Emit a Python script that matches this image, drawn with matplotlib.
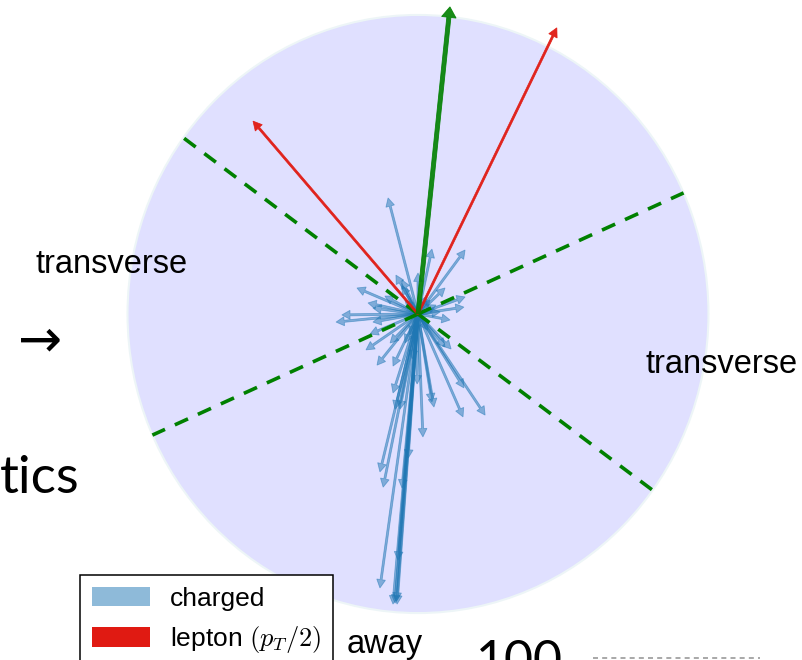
import numpy as np
import matplotlib.pyplot as plt
from matplotlib.patches import Circle, Patch
from matplotlib.lines import Line2D

# transverse momenta of the charged tracks (units of the circle radius)
charged_px = [-0.103, 0.048, 0.162, -0.076, 0.000, -0.055, 0.093, -0.210, 0.162, 0.158,
              -0.172, -0.155, -0.262, -0.282, 0.110, -0.155, -0.165, -0.179, -0.141, -0.086,
              0.114, 0.093, 0.158, 0.231, 0.155, 0.055, 0.048, -0.003, -0.086, -0.079,
              -0.062, 0.017, -0.034, -0.131, -0.120, -0.055, -0.131, -0.086, -0.072, -0.079,
              -0.096, -0.045, 0.041, 0.076, -0.045, 0.034, -0.028, -0.114, -0.055, -0.074,
              -0.069, 0.030, 0.062, -0.020]
charged_py = [0.388, 0.217, 0.214, 0.130, 0.137, 0.114, 0.087, 0.087, 0.057, 0.023,
              0.037, 0.020, -0.003, -0.027, -0.020, -0.027, -0.067, -0.120, -0.171, -0.174,
              -0.117, -0.110, -0.247, -0.338, -0.344, -0.311, -0.294, -0.234, -0.264, -0.318,
              -0.318, -0.411, -0.482, -0.528, -0.579, -0.582, -0.916, -0.970, -0.970, -0.967,
              -0.097, -0.097, 0.047, 0.007, 0.047, -0.054, -0.070, 0.060, 0.094, -0.960,
              -0.823, 0.060, 0.030, -0.150]

# the two leptons, drawn at half their pT
lepton_px = [-0.568, 0.478]
lepton_py = [0.645, 0.957]

# leading direction that defines the regions
lead_px, lead_py = 0.110, 1.027

region_names = ["transverse", "transverse", "away"]

plt.rcParams['font.family'] = ['Liberation Sans', 'DejaVu Sans']
plt.rcParams['mathtext.fontset'] = 'cm'

W, H = 802, 660
fig = plt.figure(figsize=(W / 100, H / 100), dpi=100)
ax = fig.add_axes([0, 0, 1, 1])
ax.set_xlim(-1.439, 1.322)
ax.set_ylim(-1.157, 1.050)
ax.axis('off')

ax.add_patch(Circle((0, 0), 1.0, facecolor=(0.878, 0.878, 1.0), edgecolor=(0.93, 0.96, 0.97),
                    lw=1.5, zorder=0))

blue = '#1f77b4'
red = '#e01a12'
for x, y in zip(charged_px, charged_py):
    ax.arrow(0, 0, x, y, width=0.007, head_width=0.03, head_length=0.028,
             length_includes_head=True, color=blue, alpha=0.5, lw=0.6, zorder=2)

# region boundaries at +-60 degrees from the leading direction
phi = np.arctan2(lead_py, lead_px)
for a in phi + np.radians([60, -60, 120, -120]):
    ax.plot([0, np.cos(a)], [0, np.sin(a)], color='green', lw=2.6,
            linestyle=(0, (4, 3)), dash_capstyle='butt', zorder=3)

for x, y in zip(lepton_px, lepton_py):
    ax.arrow(0, 0, x, y, width=0.007, head_width=0.032, head_length=0.03,
             length_includes_head=True, color=red, alpha=0.95, lw=0.5, zorder=4)

ax.arrow(0, 0, lead_px, lead_py, width=0.014, head_width=0.05, head_length=0.035,
         length_includes_head=True, color='green', alpha=0.9, lw=0.6, zorder=5)

# text in figure pixel positions
def fx(px):
    return px / W

def fy(py):
    return 1 - py / H

fig.text(fx(36), fy(273), region_names[0], fontsize=23.5, va='baseline', ha='left')
fig.text(fx(646), fy(373), region_names[1], fontsize=23.5, va='baseline', ha='left')
fig.text(fx(347), fy(653), region_names[2], fontsize=23.5, va='baseline', ha='left')

fig.text(fx(40), fy(341), "→", fontsize=38, family='DejaVu Sans', va='center', ha='center')
fig.text(fx(0), fy(493), "tics", fontsize=38, family='Lato', va='baseline', ha='left')
fig.text(fx(476), fy(639), "100", fontsize=36, family='Lato', va='top', ha='left')

fig.add_artist(Line2D([fx(593), fx(760)], [fy(658), fy(658)], color='#9a9a9a', lw=1.2,
                      linestyle=(0, (3, 2.5))))

handles = [Patch(facecolor=blue, alpha=0.5, label='charged'),
           Patch(facecolor=red, label=r'lepton $(p_T/2)$')]
leg = fig.legend(handles=handles, loc='upper left', bbox_to_anchor=(fx(80), fy(575)),
                 bbox_transform=fig.transFigure, borderaxespad=0, fontsize=19,
                 fancybox=False, framealpha=1, edgecolor='black', handlelength=2.2,
                 handleheight=0.75, handletextpad=0.75, labelspacing=0.5, borderpad=0.45)
leg.get_frame().set_linewidth(1.1)

fig.savefig('out.png', dpi=100)
